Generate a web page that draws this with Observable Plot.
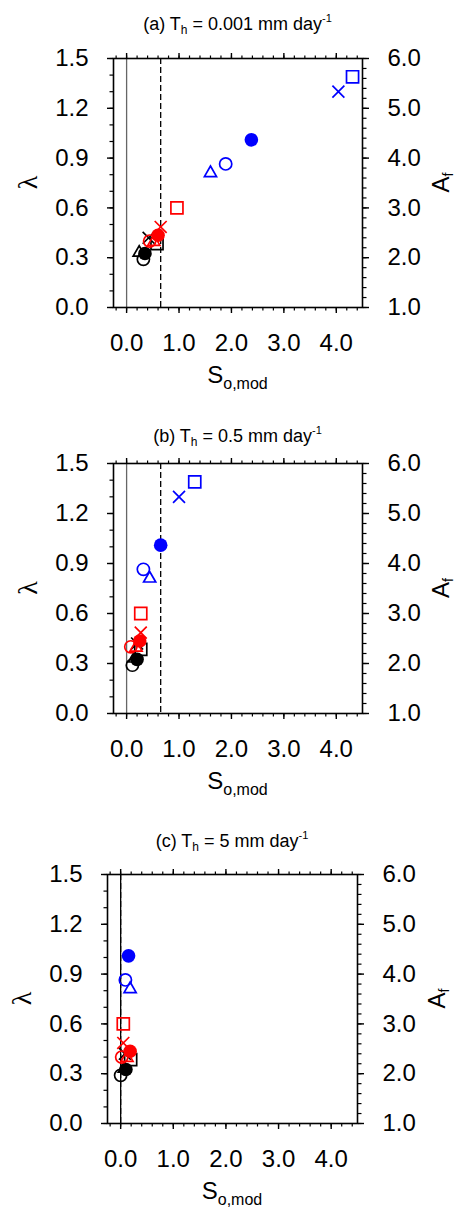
<!DOCTYPE html>
<html><head><meta charset="utf-8">
<script src="https://cdn.jsdelivr.net/npm/d3@7"></script>
<script src="https://cdn.jsdelivr.net/npm/@observablehq/plot@0.6"></script>
<style>
body{margin:0;background:#fff;}
#chart{width:457px;}
#chart svg{display:block;}
</style></head><body><div id="chart"></div>
<script>
// ---------- data ----------
const panelLetters = ["a", "b", "c"];
const thresholds = ["0.001", "0.5", "5"];          // T_h (mm day-1)
const seriesColor = ["black","black","black","black","black",
                     "red","red","red","red","red",
                     "blue","blue","blue","blue","blue"];
const seriesShape = ["open","filled","triangle","square","cross",
                     "open","filled","triangle","square","cross",
                     "open","filled","triangle","square","cross"];
const lambda = [0.29, 0.325, 0.33, 0.385, 0.42,
                0.40, 0.435, 0.395, 0.60, 0.485,
                0.865, 1.01, 0.81, 1.39, 1.30];
const soModA = [0.32, 0.35, 0.24, 0.58, 0.42,
                0.44, 0.60, 0.52, 0.96, 0.65,
                1.89, 2.38, 1.60, 4.31, 4.04];
const soModB = [0.11, 0.20, 0.15, 0.27, 0.20,
                0.08, 0.25, 0.18, 0.27, 0.27,
                0.32, 0.65, 0.44, 1.30, 1.00];
const soModC = [0.00, 0.10, 0.07, 0.19, 0.08,
                0.02, 0.18, 0.12, 0.05, 0.05,
                0.09, 0.15, 0.18, null, null];
const dashedX = [0.65, 0.65, 0.0];
const xMajor = [0, 1, 2, 3, 4];
const xMinor = [-0.2, 0, 0.2, 0.4, 0.6, 0.8, 1, 1.2, 1.4, 1.6, 1.8, 2, 2.2, 2.4, 2.6, 2.8, 3, 3.2, 3.4, 3.6, 3.8, 4, 4.2, 4.4];
const lamMajor = [0, 0.3, 0.6, 0.9, 1.2, 1.5];
const lamMinor = [0, 0.1, 0.2, 0.3, 0.4, 0.5, 0.6, 0.7, 0.8, 0.9, 1.0, 1.1, 1.2, 1.3, 1.4, 1.5];
const afMajor = [1, 2, 3, 4, 5, 6];
const afMinor = [1, 1.2, 1.4, 1.6, 1.8, 2, 2.2, 2.4, 2.6, 2.8, 3, 3.2, 3.4, 3.6, 3.8, 4, 4.2, 4.4, 4.6, 4.8, 5, 5.2, 5.4, 5.6, 5.8, 6];

// A_f = 1 + lambda / 0.3
const afToLam = a => (a - 1) * 0.3;
const lamToAf = l => 1 + l / 0.3;

// ---------- layout ----------
const W = 457;
const layouts = [
  {height: 405, mt: 58, mb: 98,  ml: 113, mr: 95,  titleY: 30, lamX: 27, afX: 449},
  {height: 415, mt: 58, mb: 107, ml: 113, mr: 95,  titleY: 37, lamX: 27, afX: 449},
  {height: 387, mt: 54, mb: 84,  ml: 107, mr: 100, titleY: 27, lamX: 21, afX: 445}
];
const fontFam = "'Liberation Sans', Arial, Helvetica, sans-serif";
const symbolOf = {open: "circle", filled: "circle", triangle: "triangle", square: "square", cross: "times"};
const rOf = {open: 6.1, filled: 6.8, triangle: 4.5, square: 6.8, cross: 5.5};

const soSets = [soModA, soModB, soModC];

function panel(i) {
  const L = layouts[i];
  const so = soSets[i];
  const rows = seriesShape.map((s, k) => ({shape: s, color: seriesColor[k], x: so[k], y: lambda[k]}))
                          .filter(d => d.x != null);
  const dots = rows.map(d => Plot.dot([d], {
    x: "x", y: "y",
    symbol: symbolOf[d.shape], r: rOf[d.shape],
    fill: d.shape === "filled" ? d.color : "none",
    stroke: d.shape === "filled" ? "none" : d.color,
    strokeWidth: 1.7
  }));
  const blank = () => "";
  const chart = Plot.plot({
    width: W, height: L.height,
    marginTop: L.mt, marginBottom: L.mb, marginLeft: L.ml, marginRight: L.mr,
    style: {fontFamily: fontFam, fontSize: "24px", background: "white", color: "black", overflow: "visible"},
    x: {domain: [-0.25, 4.5]},
    y: {domain: [0, 1.5]},
    marks: [
      Plot.ruleX([0], {stroke: i === 2 ? "black" : "#666", strokeWidth: 1.3}),
      Plot.ruleX([dashedX[i]], {stroke: "black", strokeWidth: 1.3, strokeDasharray: "6,3"}),
      ...dots,
      Plot.axisX({anchor: "bottom", ticks: xMajor, tickSize: 6, tickPadding: 20, tickFormat: d => d.toFixed(1), fontSize: 24, label: null, strokeWidth: 1.4}),
      Plot.axisX({anchor: "bottom", ticks: xMinor, tickSize: 3.5, tickFormat: blank, label: null, strokeWidth: 1.2}),
      Plot.axisX({anchor: "top", ticks: xMajor, tickSize: 6, tickFormat: blank, label: null, strokeWidth: 1.4}),
      Plot.axisX({anchor: "top", ticks: xMinor, tickSize: 3.5, tickFormat: blank, label: null, strokeWidth: 1.2}),
      Plot.axisY({anchor: "left", ticks: lamMajor, tickSize: 6, tickPadding: 19, tickFormat: d => d.toFixed(1), fontSize: 24, label: null, strokeWidth: 1.4}),
      Plot.axisY({anchor: "left", ticks: lamMinor, tickSize: 3.5, tickFormat: blank, label: null, strokeWidth: 1.2}),
      Plot.axisY({anchor: "right", ticks: afMajor.map(afToLam), tickSize: 6, tickPadding: 19, tickFormat: d => lamToAf(d).toFixed(1), fontSize: 24, label: null, strokeWidth: 1.4}),
      Plot.axisY({anchor: "right", ticks: afMinor.map(afToLam), tickSize: 3.5, tickFormat: blank, label: null, strokeWidth: 1.2}),
      Plot.frame({stroke: "black", strokeWidth: 1.6})
    ]
  });

  const svg = d3.select(chart);
  const cx = (L.ml + (W - L.mr)) / 2;
  const cy = (L.mt + (L.height - L.mb)) / 2;
  const fb = L.height - L.mb;

  // title
  const t = svg.append("text").attr("x", cx).attr("y", L.titleY)
    .attr("text-anchor", "middle").attr("font-size", 18).attr("font-family", fontFam).attr("fill", "black");
  t.append("tspan").text(`(${panelLetters[i]}) T`);
  t.append("tspan").attr("font-size", 12).attr("dy", 4).text("h");
  t.append("tspan").attr("dy", -4).text(` = ${thresholds[i]} mm day`);
  t.append("tspan").attr("font-size", 11).attr("dy", -8).text("-1");

  // x label
  const xl = svg.append("text").attr("x", cx).attr("y", fb + 76)
    .attr("text-anchor", "middle").attr("font-size", 24).attr("font-family", fontFam).attr("fill", "black");
  xl.append("tspan").text("S");
  xl.append("tspan").attr("font-size", 16).attr("dy", 6).text("o,mod");

  // left label (lambda)
  svg.append("text").attr("transform", `translate(${L.lamX},${cy}) rotate(-90)`)
    .attr("text-anchor", "middle").attr("dy", "0.35em")
    .attr("font-size", 28).attr("font-family", "'Liberation Serif', 'Times New Roman', serif").attr("fill", "black")
    .text("λ");

  // right label (A_f)
  const al = svg.append("text").attr("transform", `translate(${L.afX},${cy}) rotate(-90)`)
    .attr("text-anchor", "middle").attr("font-size", 24).attr("font-family", fontFam).attr("fill", "black");
  al.append("tspan").text("A");
  al.append("tspan").attr("font-size", 14).attr("dy", 4).text("f");

  return chart;
}

const root = document.getElementById("chart");
for (let i = 0; i < 3; i++) root.appendChild(panel(i));
</script>
</body></html>
